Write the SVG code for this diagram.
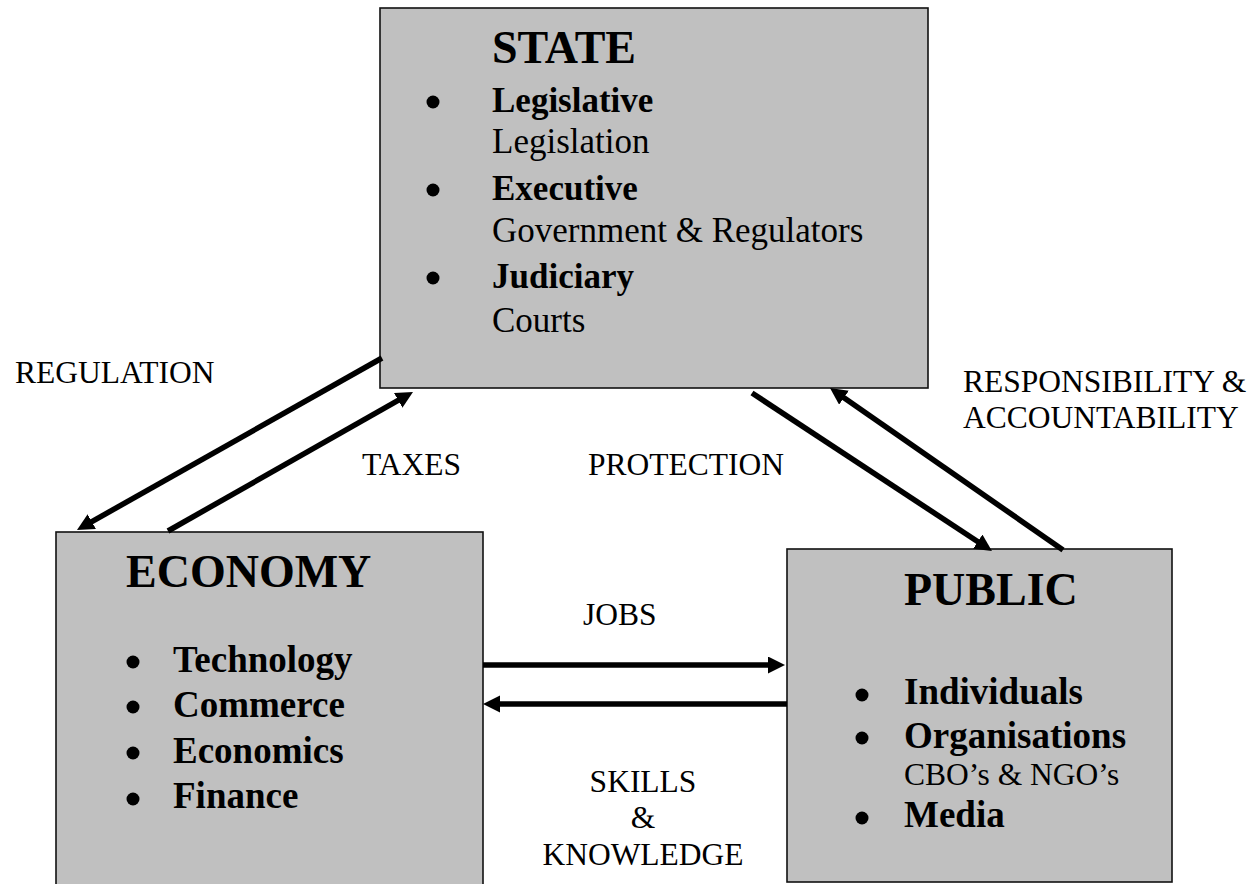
<svg xmlns="http://www.w3.org/2000/svg" width="1258" height="884" viewBox="0 0 1258 884">
  <style>
    text { font-family: "Liberation Serif", "Times New Roman", serif; fill: #000; }
    .box { fill: #c0c0c0; stroke: #111; stroke-width: 1.6; }
    .title { font-size: 46px; font-weight: bold; }
    .item { font-size: 37px; font-weight: bold; }
    .sitem { font-size: 35px; font-weight: bold; }
    .sub { font-size: 35px; }
    .small { font-size: 31.5px; }
    .label { font-size: 31.5px; }
    .dot { fill: #000; }
    .conn { stroke: #000; stroke-width: 5.5; fill: none; marker-end: url(#head); }
  </style>
  <defs>
    <marker id="head" markerUnits="userSpaceOnUse" markerWidth="18" markerHeight="18" refX="7" refY="8.5" orient="auto">
      <path d="M0,0 L17,8.5 L0,17 z" fill="#000"/>
    </marker>
  </defs>
  <rect width="1258" height="884" fill="#fff"/>

  <!-- State node -->
  <g id="state">
    <rect class="box" x="380" y="8" width="548" height="380"/>
    <text class="title" x="492" y="63">STATE</text>
    <circle class="dot" cx="433" cy="102" r="6.5"/>
    <text class="sitem" x="492" y="112">Legislative</text>
    <text class="sub" x="492" y="153">Legislation</text>
    <circle class="dot" cx="433" cy="190" r="6.5"/>
    <text class="sitem" x="492" y="200">Executive</text>
    <text class="sub" x="492" y="242">Government &amp; Regulators</text>
    <circle class="dot" cx="433" cy="278" r="6.5"/>
    <text class="sitem" x="492" y="288">Judiciary</text>
    <text class="sub" x="492" y="332">Courts</text>
  </g>

  <!-- Economy node -->
  <g id="economy">
    <rect class="box" x="56" y="532" width="427" height="360"/>
    <text class="title" x="126" y="587">ECONOMY</text>
    <circle class="dot" cx="133" cy="662" r="6.5"/>
    <text class="item" x="173" y="672">Technology</text>
    <circle class="dot" cx="133" cy="707" r="6.5"/>
    <text class="item" x="173" y="717">Commerce</text>
    <circle class="dot" cx="133" cy="753" r="6.5"/>
    <text class="item" x="173" y="763">Economics</text>
    <circle class="dot" cx="133" cy="799" r="6.5"/>
    <text class="item" x="173" y="808">Finance</text>
  </g>

  <!-- Public node -->
  <g id="public">
    <rect class="box" x="787" y="549" width="385" height="333"/>
    <text class="title" x="904" y="605">PUBLIC</text>
    <circle class="dot" cx="862" cy="695" r="6.5"/>
    <text class="item" x="904" y="704">Individuals</text>
    <circle class="dot" cx="862" cy="738" r="6.5"/>
    <text class="item" x="904" y="748">Organisations</text>
    <text class="small" x="904" y="785">CBO’s &amp; NGO’s</text>
    <circle class="dot" cx="862" cy="818" r="6.5"/>
    <text class="item" x="904" y="827">Media</text>
  </g>

  <!-- Flows between the three sectors -->
  <g id="connectors">
    <line class="conn" x1="382" y1="358" x2="85.7" y2="525.1"/>
    <line class="conn" x1="168" y1="531" x2="404.3" y2="396.9"/>
    <line class="conn" x1="752" y1="393" x2="983.6" y2="545.5"/>
    <line class="conn" x1="1063" y1="550" x2="838.2" y2="393.7"/>
    <line class="conn" x1="483" y1="665" x2="775" y2="665"/>
    <line class="conn" x1="787" y1="704" x2="493" y2="704"/>
  </g>

  <!-- Flow labels -->
  <g id="labels">
    <text class="label" x="15" y="383">REGULATION</text>
    <text class="label" x="362" y="475">TAXES</text>
    <text class="label" x="588" y="475">PROTECTION</text>
    <text class="label" x="963" y="392">RESPONSIBILITY &amp;</text>
    <text class="label" x="963" y="428">ACCOUNTABILITY</text>
    <text class="label" x="583" y="625">JOBS</text>
    <text class="label" x="643" y="792" text-anchor="middle">SKILLS</text>
    <text class="label" x="643" y="828" text-anchor="middle">&amp;</text>
    <text class="label" x="643" y="865" text-anchor="middle">KNOWLEDGE</text>
  </g>
</svg>
